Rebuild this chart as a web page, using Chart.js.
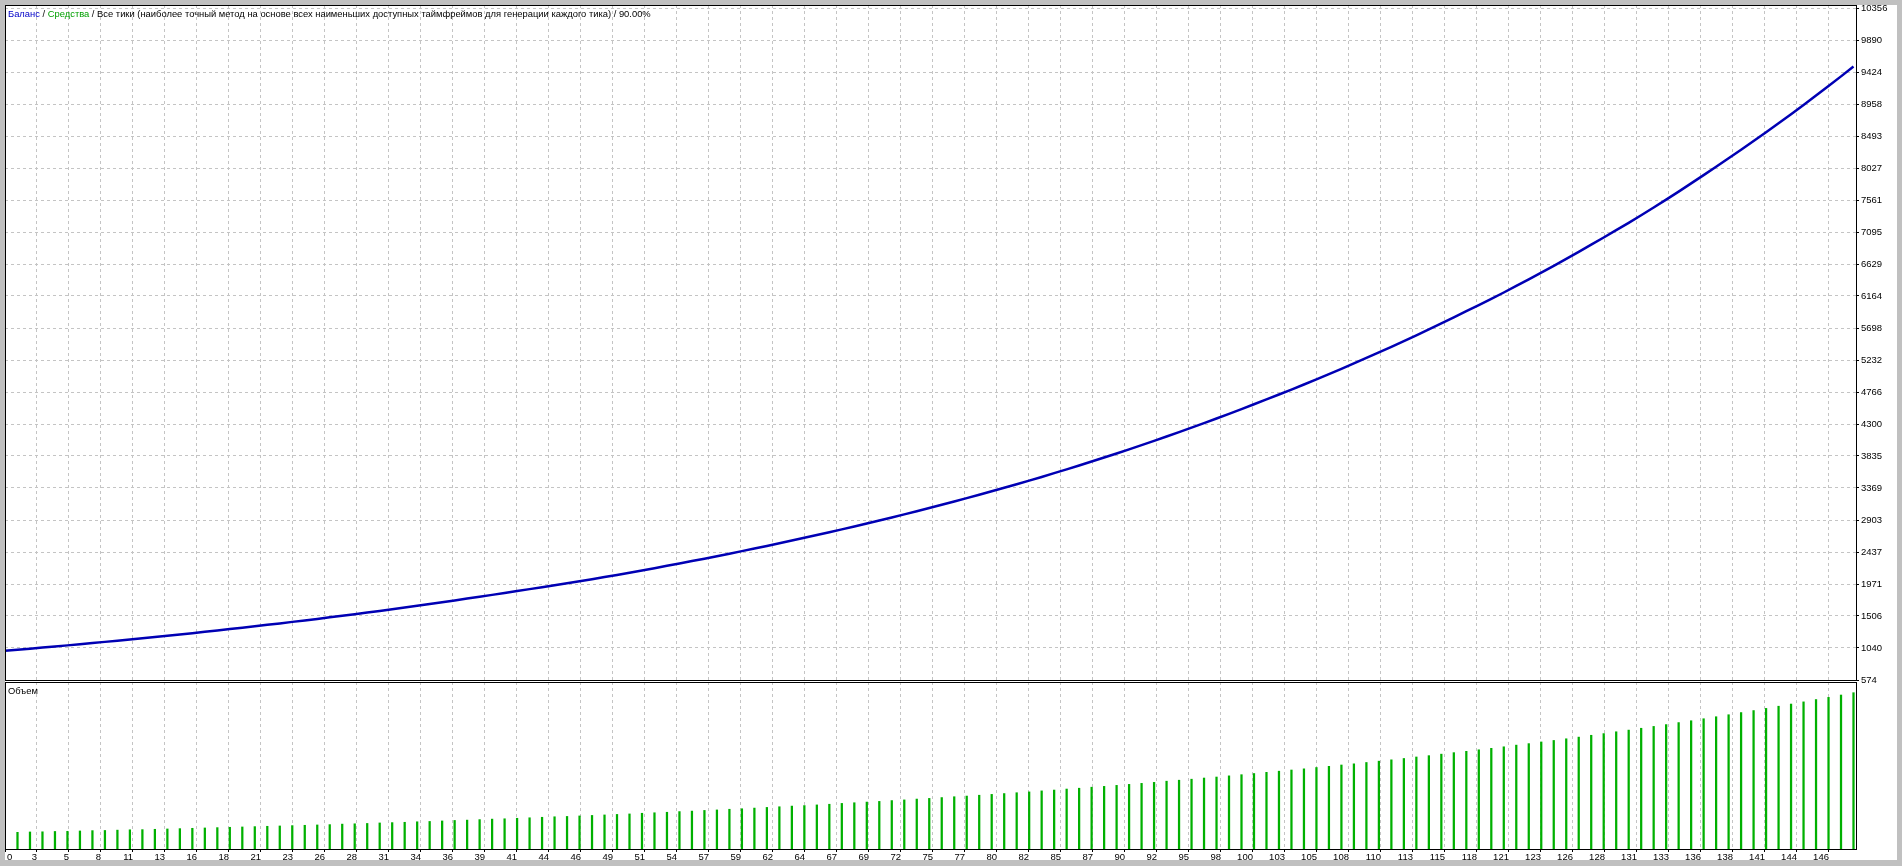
<!DOCTYPE html>
<html><head><meta charset="utf-8">
<script src="https://cdn.jsdelivr.net/npm/chart.js@4.4.1/dist/chart.umd.min.js"></script>
<style>
html,body{margin:0;padding:0;background:#c0c0c0;width:1902px;height:866px;overflow:hidden}
#panel{position:absolute;left:5px;top:5px;width:1892px;height:855px;background:#fff}
canvas{position:absolute;left:0}
#main{top:0}
#vol{top:681px}
</style></head><body>
<div id="panel"></div>
<canvas id="main" width="1902" height="866"></canvas>
<canvas id="vol" width="1902" height="185"></canvas>
<script>
// ---- data ----
const balance = [1000,1015,1030,1046,1062,1078,1095,1112,1129,1146,
1164,1182,1200,1218,1237,1256,1275,1295,1315,1335,
1356,1377,1398,1420,1441,1463,1486,1509,1532,1556,
1580,1604,1629,1654,1680,1706,1732,1759,1786,1813,
1841,1869,1897,1925,1954,1983,2012,2042,2073,2104,
2136,2169,2202,2236,2270,2305,2340,2376,2413,2450,
2488,2526,2565,2604,2644,2684,2725,2767,2809,2852,
2896,2940,2985,3031,3078,3125,3173,3222,3271,3321,
3372,3424,3477,3530,3585,3640,3697,3754,3812,3871,
3932,3993,4055,4118,4182,4247,4313,4380,4448,4517,
4588,4658,4730,4802,4876,4951,5027,5104,5182,5262,
5342,5424,5507,5592,5678,5765,5853,5942,6032,6122,
6215,6310,6406,6504,6603,6704,6807,6911,7016,7122,
7229,7339,7452,7567,7684,7803,7923,8045,8168,8292,
8419,8547,8678,8810,8945,9082,9220,9361,9504];

// lots per trade, trades 1..148
const volume = [0.100,0.102,0.103,0.105,0.106,0.108,0.110,0.111,0.113,0.115,
0.116,0.118,0.120,0.122,0.124,0.126,0.128,0.130,0.132,0.134,
0.136,0.138,0.140,0.142,0.144,0.146,0.149,0.151,0.153,0.156,
0.158,0.160,0.163,0.165,0.168,0.171,0.173,0.176,0.179,0.181,
0.184,0.187,0.190,0.193,0.195,0.198,0.201,0.204,0.207,0.210,
0.214,0.217,0.220,0.224,0.227,0.231,0.234,0.238,0.241,0.245,
0.249,0.253,0.257,0.260,0.264,0.268,0.273,0.277,0.281,0.285,
0.290,0.294,0.299,0.303,0.308,0.313,0.317,0.322,0.327,0.332,
0.337,0.342,0.348,0.353,0.359,0.364,0.370,0.375,0.381,0.387,
0.393,0.399,0.406,0.412,0.418,0.425,0.431,0.438,0.445,0.452,
0.459,0.466,0.473,0.480,0.488,0.495,0.503,0.510,0.518,0.526,
0.534,0.542,0.551,0.559,0.568,0.577,0.585,0.594,0.603,0.612,
0.622,0.631,0.641,0.650,0.660,0.670,0.681,0.691,0.702,0.712,
0.723,0.734,0.745,0.757,0.768,0.780,0.792,0.804,0.817,0.829,
0.842,0.855,0.868,0.881,0.895,0.908,0.922,0.936];

const yTickValues = [574,1040,1506,1971,2437,2903,3369,3835,4300,4766,5232,5698,6164,6629,7095,7561,8027,8493,8958,9424,9890,10356];
const xTickLabels = ["0","3","5","8","11","13","16","18","21","23","26","28","31","34","36","39","41","44","46","49","51","54","57","59","62","64","67","69","72","75","77","80","82","85","87","90","92","95","98","100","103","105","108","110","113","115","118","121","123","126","128","131","133","136","138","141","144","146"];

const headerParts = [
  ["Баланс", "#0000c8"],
  [" / ", "#000000"],
  ["Средства", "#00a000"],
  [" / Все тики (наиболее точный метод на основе всех наименьших доступных таймфреймов для генерации каждого тика) / 90.00%", "#000000"]
];
const volumeTitle = "Объем";

// ---- styling / layout ----
const FONT = "'Liberation Sans', Arial, sans-serif";
const TEXT_SIZE = 9.4;
const TICK_SIZE = 9.5;
const GRID = '#c4c4c4';
const X_MAX = 148.2;     // right edge of plot, in trade units
const X_STEP = 2.562;    // grid spacing, in trade units
const xTickPositions = xTickLabels.map((_, k) => k * X_STEP);

const framePlugin = {
  id: 'frame',
  afterDraw(chart) {
    const {ctx, chartArea: a} = chart;
    ctx.save();
    ctx.strokeStyle = '#000';
    ctx.lineWidth = 1;
    ctx.strokeRect(Math.round(a.left) + 0.5, Math.round(a.top) + 0.5,
                   Math.round(a.right - a.left), Math.round(a.bottom - a.top));
    ctx.restore();
  }
};

const headerPlugin = {
  id: 'header',
  afterDraw(chart) {
    const {ctx, chartArea: a} = chart;
    ctx.save();
    ctx.font = TEXT_SIZE + "px " + FONT;
    ctx.textBaseline = 'middle';
    ctx.textAlign = 'left';
    let x = a.left + 3;
    for (const [t, c] of headerParts) {
      ctx.fillStyle = c;
      ctx.fillText(t, x, a.top + 9);
      x += ctx.measureText(t).width;
    }
    ctx.restore();
  }
};

const volPlugin = {
  id: 'voltitle',
  afterDraw(chart) {
    const {ctx, chartArea: a} = chart;
    const sx = chart.scales.x;
    ctx.save();
    ctx.font = TEXT_SIZE + "px " + FONT;
    ctx.textBaseline = 'middle';
    ctx.textAlign = 'left';
    ctx.fillStyle = '#000';
    ctx.fillText(volumeTitle, a.left + 3, a.top + 9);
    // first x label sits inside the left edge
    ctx.font = TICK_SIZE + "px " + FONT;
    ctx.fillText(xTickLabels[0], a.left + 2, sx.top + 3 + TICK_SIZE * 1.2 / 2);
    ctx.restore();
  }
};

function zeroPad(s) { s.paddingTop = 0; s.paddingBottom = 0; s.paddingLeft = 0; s.paddingRight = 0; }

new Chart(document.getElementById('main'), {
  type: 'line',
  data: {
    datasets: [{
      label: 'Баланс',
      data: balance.map((v, i) => ({x: i, y: v})),
      borderColor: '#0000b4',
      borderWidth: 2.5,
      pointRadius: 0,
      tension: 0,
      fill: false
    }]
  },
  options: {
    responsive: false, animation: false, devicePixelRatio: 1,
    layout: {padding: {left: 5, top: 5, right: 5, bottom: 186}},
    plugins: {legend: {display: false}, tooltip: {enabled: false}},
    scales: {
      x: {
        type: 'linear', min: 0, max: X_MAX,
        afterBuildTicks: s => { s.ticks = xTickPositions.map(v => ({value: v})); },
        afterFit: s => { s.height = 0; zeroPad(s); },
        ticks: {display: false},
        grid: {color: GRID, lineWidth: 1, drawTicks: false},
        border: {display: false, dash: [3, 3]}
      },
      y: {
        type: 'linear', position: 'right', min: 574, max: 10400,
        afterBuildTicks: s => { s.ticks = yTickValues.map(v => ({value: v})); },
        afterFit: s => { s.width = 41; zeroPad(s); },
        ticks: {
          color: '#000', font: {family: FONT, size: TICK_SIZE}, padding: 2,
          callback: (v, i) => String(yTickValues[i])
        },
        grid: {color: GRID, lineWidth: 1, drawTicks: true, tickLength: 3, tickColor: '#000', tickBorderDash: []},
        border: {display: false, dash: [3, 3]}
      }
    }
  },
  plugins: [framePlugin, headerPlugin]
});

new Chart(document.getElementById('vol'), {
  type: 'bar',
  data: {
    datasets: [{
      label: 'Объем',
      data: volume.map((v, i) => ({x: i + 1, y: v})),
      backgroundColor: '#00b000',
      borderWidth: 0,
      barThickness: 1.6
    }]
  },
  options: {
    responsive: false, animation: false, devicePixelRatio: 1,
    layout: {padding: {left: 5, top: 1, right: 46, bottom: 5}},
    plugins: {legend: {display: false}, tooltip: {enabled: false}},
    scales: {
      x: {
        type: 'linear', min: 0, max: X_MAX, offset: false,
        afterBuildTicks: s => { s.ticks = xTickPositions.map(v => ({value: v})); },
        afterFit: s => { s.height = 12; zeroPad(s); },
        ticks: {
          color: '#000', font: {family: FONT, size: TICK_SIZE}, padding: 0,
          align: 'end', autoSkip: false, maxRotation: 0, minRotation: 0,
          callback: (v, i) => i === 0 ? '' : xTickLabels[i]
        },
        grid: {color: GRID, lineWidth: 1, drawTicks: true, tickLength: 3, tickColor: '#000', tickBorderDash: [], offset: false},
        border: {display: false, dash: [3, 3]}
      },
      y: {
        type: 'linear', min: 0, max: 1.0, display: false,
        afterFit: s => { zeroPad(s); }
      }
    }
  },
  plugins: [framePlugin, volPlugin]
});
</script>
</body></html>
